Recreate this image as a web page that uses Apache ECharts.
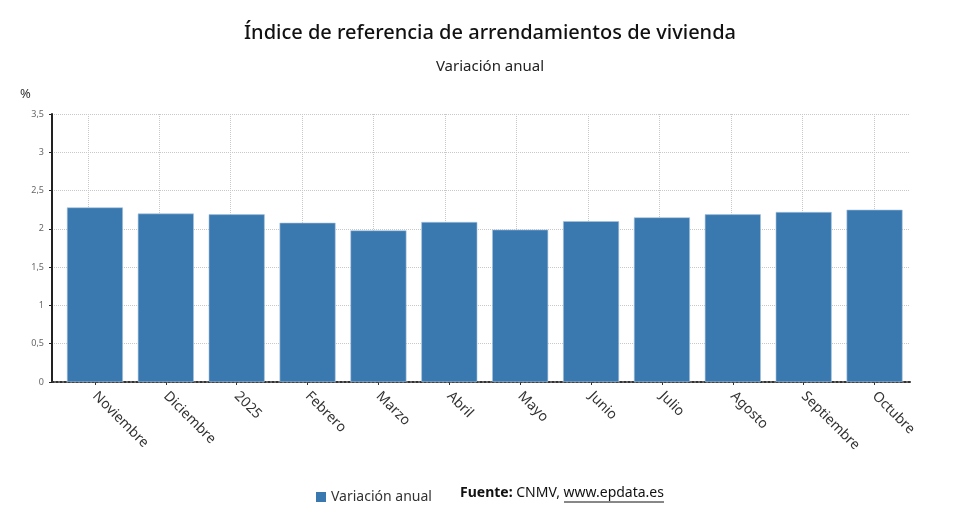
<!DOCTYPE html>
<html>
<head>
    <meta charset="utf-8">
    <title>ECharts</title>
    <script type="text/javascript" src="https://cdn.jsdelivr.net/npm/echarts@6/dist/echarts.min.js"></script>
    <style>
        html, body { margin: 0; padding: 0; background: #fff; }
        #main { width: 980px; height: 532px; }
    </style>
</head>
<body>
<div id="main"></div>
<script type="text/javascript">
    // datos del gráfico
    var meses = ['Noviembre', 'Diciembre', '2025', 'Febrero', 'Marzo', 'Abril',
                 'Mayo', 'Junio', 'Julio', 'Agosto', 'Septiembre', 'Octubre'];
    var variacion = [2.28, 2.20, 2.19, 2.08, 1.98, 2.09, 1.99, 2.10, 2.15, 2.19, 2.22, 2.25];
    var yMax = 3.5;
    var yStep = 0.5;

    var font = 'Noto Sans';
    var myChart = echarts.init(document.getElementById('main'));

    var hidden = { show: false };
    var option = {
        animation: false,
        title: [
            {
                text: 'Índice de referencia de arrendamientos de vivienda',
                left: 'center', top: 18,
                textStyle: { fontFamily: font, fontSize: 20, fontWeight: 500, color: '#111' }
            },
            {
                text: 'Variación anual',
                left: 'center', top: 54,
                textStyle: { fontFamily: font, fontSize: 15, fontWeight: 'normal', color: '#222' }
            }
        ],
        legend: {
            data: ['Variación anual'],
            left: 311, top: 485,
            icon: 'rect', itemWidth: 10, itemHeight: 10,
            itemStyle: { borderWidth: 0 },
            textStyle: { fontFamily: font, fontSize: 14, color: '#333' }
        },
        graphic: [
            { type: 'text', left: 20, top: 88,
              style: { text: '%', font: '13px "Noto Sans"', fill: '#333' } },
            { type: 'text', left: 460, top: 486,
              style: { text: '{b|Fuente:} CNMV, www.epdata.es', font: '14px "Noto Sans"', fill: '#111',
                       rich: { b: { fontWeight: 'bold', fontFamily: font, fontSize: 14 } } } },
            { type: 'line', shape: { x1: 564, y1: 502, x2: 664, y2: 502 },
              style: { stroke: '#111', lineWidth: 1 } }
        ],
        grid: [
            { left: 52, right: 70, top: 114, bottom: 150 },
            { left: 87.75, right: 106, top: 114, bottom: 150 },
            { left: 59.5, right: 70, top: 114, bottom: 150 }
        ],
        xAxis: [
            {   // línea base
                gridIndex: 0, type: 'value', min: 0, max: 1,
                axisLine: { show: true, lineStyle: { color: '#333', width: 2, type: 'dotted' } },
                axisTick: hidden, axisLabel: hidden, splitLine: hidden
            },
            {   // líneas verticales de la rejilla
                gridIndex: 1, type: 'category', data: meses, boundaryGap: false,
                axisLine: hidden, axisTick: hidden, axisLabel: { show: false, interval: 0 },
                splitLine: { show: true, interval: 0, lineStyle: { color: '#c8c8c8', type: 'dotted' } }
            },
            {
                gridIndex: 2, type: 'category', data: meses,
                axisLine: hidden,
                axisTick: { show: true, alignWithLabel: true, length: 3, lineStyle: { color: '#333' } },
                axisLabel: { rotate: -45, margin: 12, fontFamily: font, fontSize: 14, color: '#333', interval: 0 },
                splitLine: hidden
            }
        ],
        yAxis: [
            {
                gridIndex: 0, type: 'value', min: 0, max: yMax, interval: yStep,
                axisLine: { show: true, lineStyle: { color: '#222', width: 2 } },
                axisTick: { show: true, length: 3, lineStyle: { color: '#222' } },
                axisLabel: { fontFamily: font, fontSize: 9, color: '#666', margin: 8,
                             formatter: function (v) { return String(v).replace('.', ','); } },
                splitLine: { show: true, lineStyle: { color: '#c8c8c8', type: 'dotted' } }
            },
            { gridIndex: 1, type: 'value', min: 0, max: yMax, show: false },
            { gridIndex: 2, type: 'value', min: 0, max: yMax, show: false }
        ],
        series: [
            {
                name: 'Variación anual',
                type: 'bar',
                xAxisIndex: 2, yAxisIndex: 2,
                barWidth: 56,
                data: variacion,
                itemStyle: { color: '#3a79b0', borderColor: '#a9c4de', borderWidth: 0.6 }
            }
        ]
    };

    myChart.setOption(option);
</script>
</body>
</html>
